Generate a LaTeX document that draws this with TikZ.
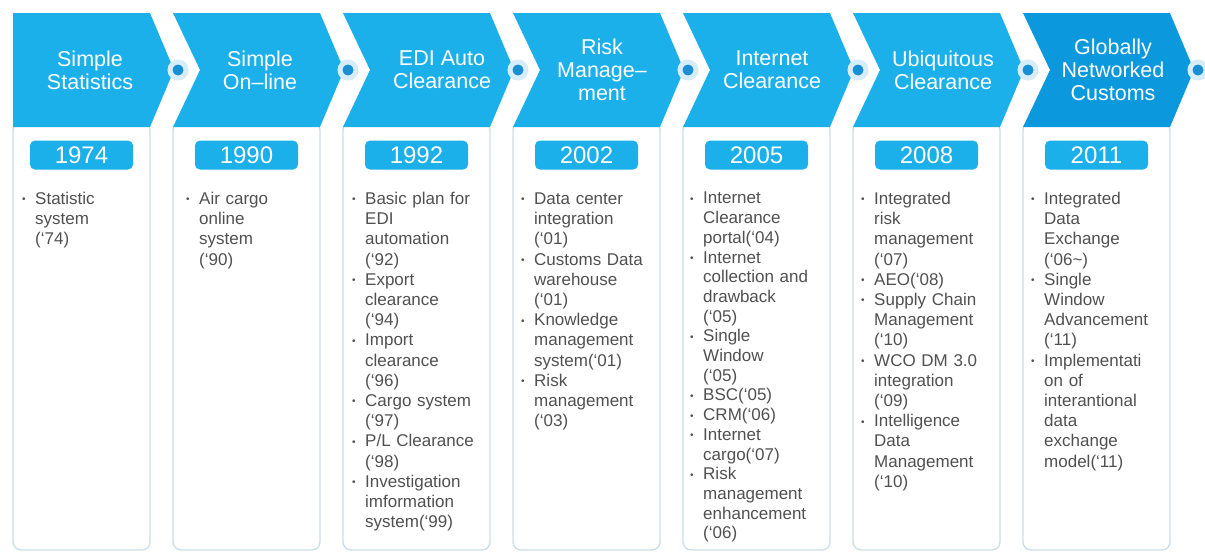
\documentclass[tikz,border=0pt]{standalone}
\usepackage{fontspec}
\setmainfont{Liberation Sans}
\usepackage{xcolor}
\usetikzlibrary{positioning}

\definecolor{chevblue}{HTML}{1CB0EA}
\definecolor{chevdark}{HTML}{0C98DC}
\definecolor{colline}{HTML}{C9DDE6}
\definecolor{txtgray}{HTML}{505050}
\definecolor{ringblue}{HTML}{D6ECF8}
\definecolor{dotblue}{HTML}{1A8FD3}

\newdimen\itemdp
\newcommand{\bitem}[1]{\par\noindent\makebox[13pt][l]{\raisebox{1.6pt}{\fontsize{10}{10}\selectfont\textbullet}}\parbox[t]{113pt}{\raggedright #1\par\global\itemdp=\prevdepth}\par\prevdepth=\itemdp}

\begin{document}
\begin{tikzpicture}[x=1pt,y=-1pt,
    chev/.style={fill=chevblue},
    head/.style={text=white,align=center,font=\fontsize{21.5}{23}\selectfont},
    knot/.style={circle,fill=dotblue,draw=ringblue,line width=5pt,minimum size=16pt,inner sep=0pt},
    colbox/.style={rectangle,draw=colline,line width=1.3pt,rounded corners=8pt,minimum height=428pt,inner sep=0pt},
    year/.style={rectangle,fill=chevblue,rounded corners=5pt,minimum width=103pt,minimum height=29pt,inner sep=0pt,text=white,font=\fontsize{24}{24}\selectfont},
    items/.style={anchor=north west,inner sep=0pt,text width=126pt,align=left,text=txtgray,font=\fontsize{17}{20.2}\selectfont}]
\useasboundingbox (0,0) rectangle (1205,552);

        % Columns
\node[colbox,minimum width=137pt] (c1) at (81.5,336) {};
\node[colbox,minimum width=147pt] (c2) at (246.5,336) {};
\node[colbox,minimum width=147pt] (c3) at (416.5,336) {};
\node[colbox,minimum width=147pt] (c4) at (586.5,336) {};
\node[colbox,minimum width=147pt] (c5) at (756.5,336) {};
\node[colbox,minimum width=147pt] (c6) at (926.5,336) {};
\node[colbox,minimum width=147pt] (c7) at (1096.5,336) {};

        % Stage arrows
\fill[chev] (13,13) -- (150,13) -- (174,70) -- (150,127) -- (13,127) -- cycle;
\fill[chev] (173,13) -- (320,13) -- (344,70) -- (320,127) -- (173,127) -- (200,70) -- cycle;
\fill[chev] (343,13) -- (490,13) -- (514,70) -- (490,127) -- (343,127) -- (370,70) -- cycle;
\fill[chev] (513,13) -- (660,13) -- (684,70) -- (660,127) -- (513,127) -- (540,70) -- cycle;
\fill[chev] (683,13) -- (830,13) -- (854,70) -- (830,127) -- (683,127) -- (710,70) -- cycle;
\fill[chev] (853,13) -- (1000,13) -- (1024,70) -- (1000,127) -- (853,127) -- (880,70) -- cycle;
\fill[chev,fill=chevdark] (1023,13) -- (1170,13) -- (1194,70) -- (1170,127) -- (1023,127) -- (1050,70) -- cycle;

\node[knot] (k1) at (178,70) {};
\node[knot] (k2) at (348,70) {};
\node[knot] (k3) at (518,70) {};
\node[knot] (k4) at (688,70) {};
\node[knot] (k5) at (858,70) {};
\node[knot] (k6) at (1028,70) {};
\node[knot] (k7) at (1198,70) {};

\node[head] (h1) at (90,70) {Simple\\Statistics};
\node[head] (h2) at (260,70) {Simple\\On–line};
\node[head] (h3) at (442,70) {EDI Auto\\Clearance};
\node[head] (h4) at (602,70) {Risk\\Manage–\\ment};
\node[head] (h5) at (772,70) {Internet\\Clearance};
\node[head] (h6) at (943,70) {Ubiquitous\\Clearance};
\node[head] (h7) at (1113,70) {Globally\\Networked\\Customs};

        % Years
\node[year,anchor=north,below=19pt of c1.north] (y1) {1974};
\node[year,anchor=north,below=19pt of c2.north] (y2) {1990};
\node[year,anchor=north,below=19pt of c3.north] (y3) {1992};
\node[year,anchor=north,below=19pt of c4.north] (y4) {2002};
\node[year,anchor=north,below=19pt of c5.north] (y5) {2005};
\node[year,anchor=north,below=19pt of c6.north] (y6) {2008};
\node[year,anchor=north,below=19pt of c7.north] (y7) {2011};

        % Milestones
\node[items] (t1) at (22,184) {\bitem{Statistic\\system\\(‘74)}};
\node[items] (t2) at (186,184) {\bitem{Air cargo\\online\\system\\(‘90)}};
\node[items] (t3) at (352,184) {\bitem{Basic plan for\\EDI\\automation\\(‘92)}\bitem{Export\\clearance\\(‘94)}\bitem{Import\\clearance\\(‘96)}\bitem{Cargo system\\(‘97)}\bitem{P/L Clearance\\(‘98)}\bitem{Investigation\\imformation\\system(‘99)}};
\node[items] (t4) at (521,184) {\bitem{Data center\\integration\\(‘01)}\bitem{Customs Data\\warehouse\\(‘01)}\bitem{Knowledge\\management\\system(‘01)}\bitem{Risk\\management\\(‘03)}};
\node[items,font=\fontsize{17}{19.7}\selectfont] (t5) at (690,184) {\bitem{Internet\\Clearance\\portal(‘04)}\bitem{Internet\\collection and\\drawback\\(‘05)}\bitem{Single\\Window\\(‘05)}\bitem{BSC(‘05)}\bitem{CRM(‘06)}\bitem{Internet\\cargo(‘07)}\bitem{Risk\\management\\enhancement\\(‘06)}};
\node[items] (t6) at (861,184) {\bitem{Integrated\\risk\\management\\(‘07)}\bitem{AEO(‘08)}\bitem{Supply Chain\\Management\\(‘10)}\bitem{WCO DM 3.0\\integration\\(‘09)}\bitem{Intelligence\\Data\\Management\\(‘10)}};
\node[items] (t7) at (1031,184) {\bitem{Integrated\\Data\\Exchange\\(‘06\textasciitilde)}\bitem{Single\\Window\\Advancement\\(‘11)}\bitem{Implementati\\on of\\interantional\\data\\exchange\\model(‘11)}};
\end{tikzpicture}
\end{document}
